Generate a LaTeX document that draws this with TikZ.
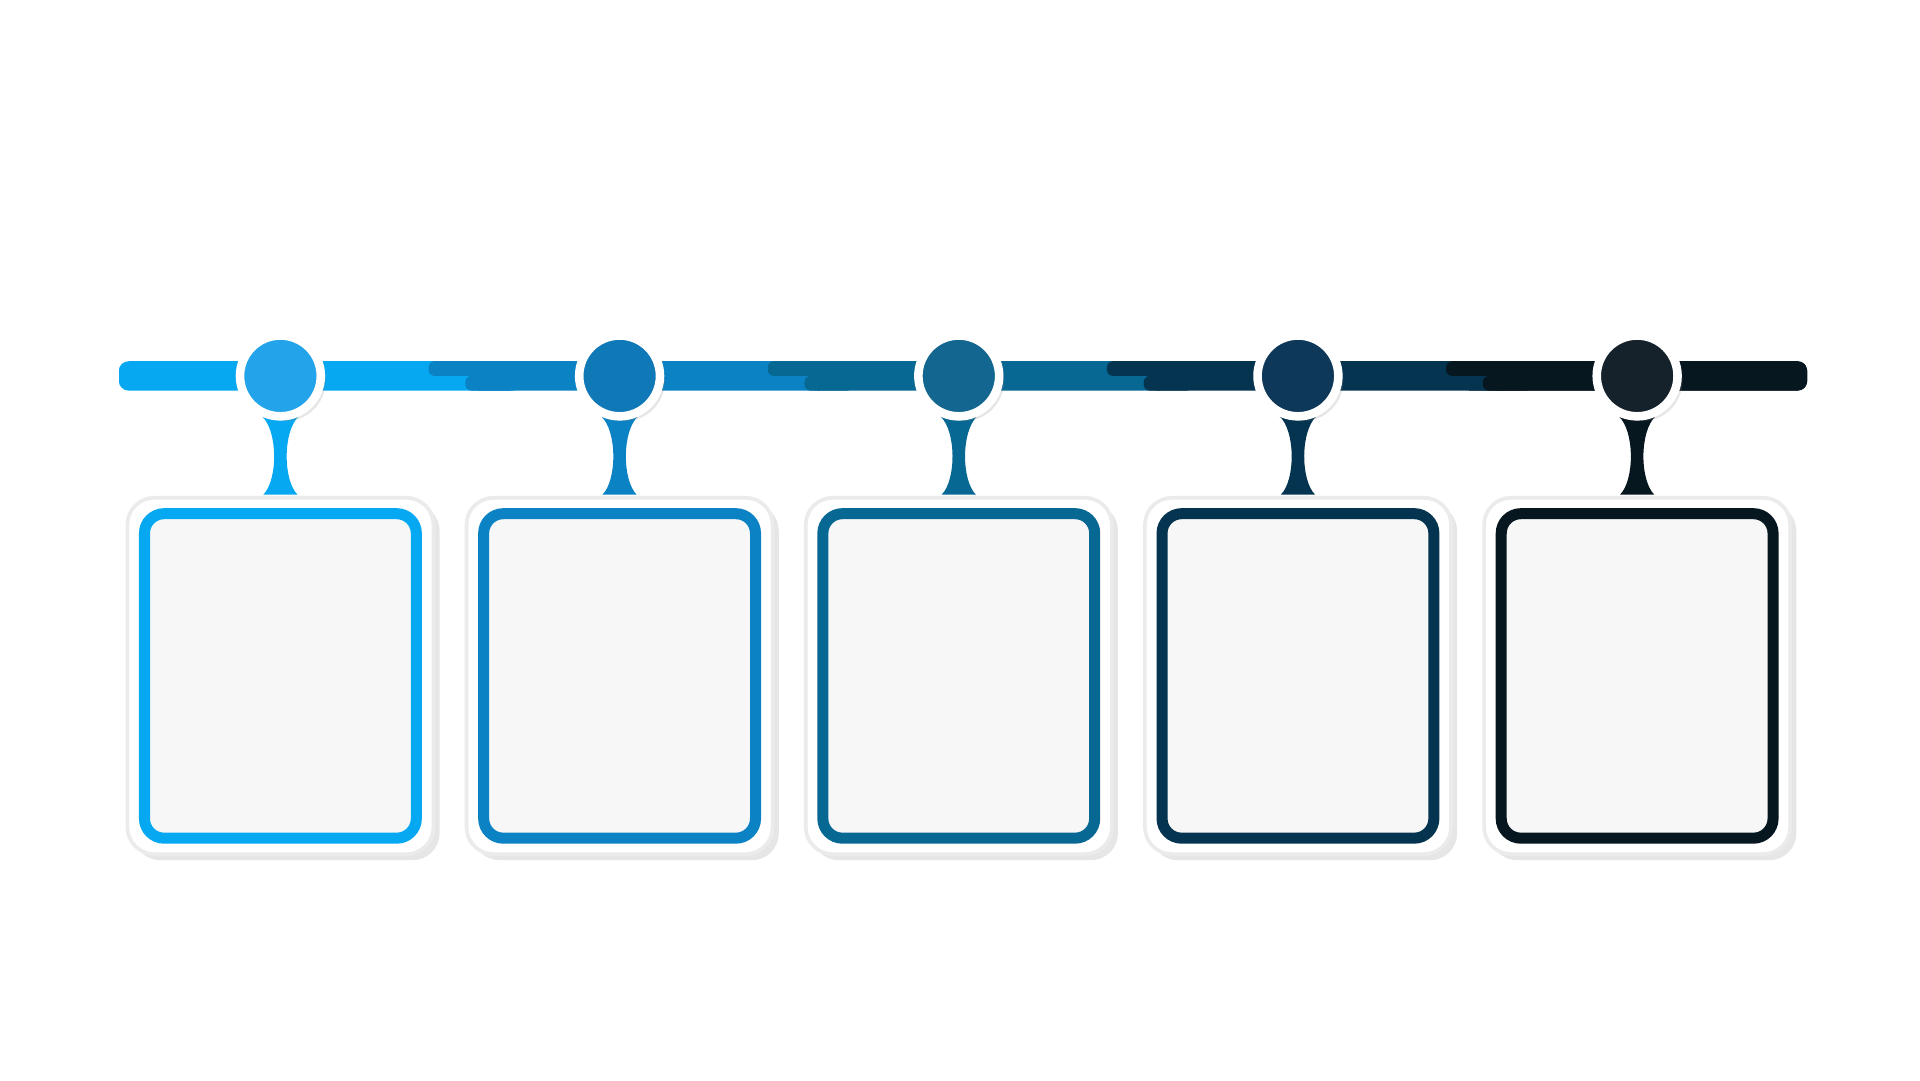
\documentclass[tikz,border=0pt]{standalone}
\usetikzlibrary{positioning,shadows}

\definecolor{barA}{HTML}{06A8F2}
\definecolor{barB}{HTML}{0A82C4}
\definecolor{barC}{HTML}{086894}
\definecolor{barD}{HTML}{04344F}
\definecolor{barE}{HTML}{07171F}
\definecolor{dotA}{HTML}{23A4EA}
\definecolor{dotB}{HTML}{0F78B7}
\definecolor{dotC}{HTML}{126690}
\definecolor{dotD}{HTML}{0E3859}
\definecolor{dotE}{HTML}{15222B}

\begin{document}
\begin{tikzpicture}[x=0.1mm,y=-0.1mm,
ring/.style={circle,draw=white,line width=0.7mm,minimum size=6.6mm,inner sep=0pt,
    drop shadow={shadow xshift=0.4mm,shadow yshift=-0.4mm,opacity=0.2}},
card/.style={rounded corners=2.2mm,fill=white,draw=black!8,line width=0.3mm,
    minimum width=25mm,minimum height=29.1mm,
    drop shadow={shadow xshift=0.5mm,shadow yshift=-0.5mm,opacity=0.2}},
frame/.style={rounded corners=1.6mm,line width=0.9mm,fill=black!3,
    minimum width=22.2mm,minimum height=26.5mm}]

\useasboundingbox (0,0) rectangle (1568,882);

% timeline bar
\begin{scope}
\clip[rounded corners=0.8mm] (97,295) rectangle (1476,319);
\fill[barA] (97,295) rectangle (420,319);
\fill[barE] (1200,295) rectangle (1476,319);
\foreach \c [count=\k] in {barB,barC,barD,barE}
{
  \fill[\c,rounded corners=0.5mm] (350+277*\k-277,295) rectangle (670+277*\k-277,307);
  \fill[\c] (390+277*\k-277,307) rectangle (670+277*\k-277,319);
  \fill[\c,rounded corners=0.5mm] (380+277*\k-277,307) rectangle (420+277*\k-277,319);
}
\end{scope}

% steps
\foreach \x/\d/\b [count=\i] in {229/dotA/barA,506/dotB/barB,783/dotC/barC,1060/dotD/barD,1337/dotE/barE}
{
  \fill[\b] (\x-15,340) .. controls (\x-2,352) and (\x-2,392) .. (\x-14,404)
    -- (\x+14,404) .. controls (\x+2,392) and (\x+2,352) .. (\x+15,340) -- cycle;
  \node[card] (card\i) at (\x,552) {};
  \node[frame,draw=\b] (box\i) at (\x,552) {};
  \node[ring,fill=\d] (dot\i) at (\x,307) {};
}
\end{tikzpicture}
\end{document}
